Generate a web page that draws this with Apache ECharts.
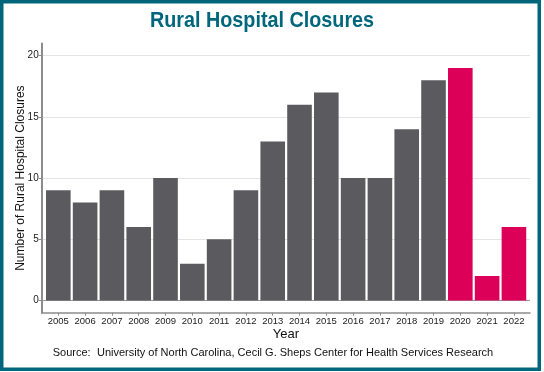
<!DOCTYPE html>
<html>
<head>
<meta charset="utf-8">
<script src="https://cdn.jsdelivr.net/npm/echarts@6/dist/echarts.min.js"></script>
<style>
  html, body { margin: 0; padding: 0; background: #ffffff; }
  #chart { width: 544px; height: 372px; }
</style>
</head>
<body>
<div id="chart"></div>
<script>
// ---- Data ----
const years = [2005, 2006, 2007, 2008, 2009, 2010, 2011, 2012, 2013, 2014, 2015, 2016, 2017, 2018, 2019, 2020, 2021, 2022];
const closures = [9, 8, 9, 6, 10, 3, 5, 9, 13, 16, 17, 10, 10, 14, 18, 19, 2, 6];
const highlightYears = [2020, 2021, 2022];
const yTicks = [0, 5, 10, 15, 20];

const titleText = 'Rural Hospital Closures';
const yAxisTitle = 'Number of Rural Hospital Closures';
const xAxisTitle = 'Year';
const sourceLabel = 'Source:';
const sourceText = 'University of North Carolina, Cecil G. Sheps Center for Health Services Research';

const GRAY = '#5b5b5f';
const PINK = '#dd0058';
const TEAL = '#00667c';

const chart = echarts.init(document.getElementById('chart'), null, { renderer: 'canvas' });

const seriesData = years.map((y, i) => ({
  value: [y, closures[i]],
  itemStyle: { color: highlightYears.includes(y) ? PINK : GRAY }
}));

chart.setOption({
  animation: false,
  backgroundColor: '#ffffff',
  grid: {
    left: 41.7,
    right: 14,
    top: 43.5,
    bottom: 59.3,
    outerBoundsMode: 'none',
    containLabel: false
  },
  xAxis: {
    type: 'value',
    min: 2004.38,
    max: 2022.6,
    name: xAxisTitle,
    nameLocation: 'middle',
    nameGap: 15,
    nameMoveOverlap: false,
    nameTextStyle: { fontFamily: '"Liberation Sans", Arial, sans-serif', fontSize: 13, color: '#111', verticalAlign: 'top' },
    axisLine: { show: true, onZero: false, lineStyle: { color: '#8c8c8c', width: 1.5 } },
    axisTick: { show: true, length: 3, customValues: years, lineStyle: { color: '#8c8c8c' } },
    axisLabel: {
      customValues: years,
      fontFamily: '"Liberation Sans", Arial, sans-serif',
      fontSize: 9.5,
      color: '#222',
      margin: 4,
      formatter: v => String(v)
    },
    splitLine: { show: false }
  },
  yAxis: {
    type: 'value',
    min: -1,
    max: 21,
    name: yAxisTitle,
    nameLocation: 'middle',
    nameGap: 15,
    nameRotate: 90,
    nameMoveOverlap: false,
    nameTextStyle: { fontFamily: '"Liberation Sans", Arial, sans-serif', fontSize: 12, color: '#111' },
    axisLine: { show: true, onZero: false, lineStyle: { color: '#8c8c8c', width: 2 } },
    axisTick: { show: true, length: 3, customValues: yTicks, lineStyle: { color: '#8c8c8c' } },
    axisLabel: {
      customValues: yTicks,
      fontFamily: '"Liberation Sans", Arial, sans-serif',
      fontSize: 10,
      color: '#222',
      margin: 3
    },
    splitLine: { show: true, lineStyle: { color: ['#9a9a9a', '#e4e4e4', '#e4e4e4', '#e4e4e4', '#e4e4e4'], width: 1 } }
  },
  series: [{
    type: 'bar',
    data: seriesData,
    barWidth: 24.6,
    itemStyle: { borderWidth: 0 }
  }],
  graphic: [
    {
      type: 'rect',
      shape: { x: 1.75, y: 1.75, width: 537.5, height: 367.5 },
      style: { fill: null, stroke: TEAL, lineWidth: 3.5 },
      silent: true
    },
    {
      type: 'text',
      x: 262,
      y: 21.5,
      scaleX: 0.92,
      style: {
        text: titleText,
        font: 'bold 21.5px "Liberation Sans", Arial, sans-serif',
        fill: TEAL,
        align: 'center',
        verticalAlign: 'middle'
      }
    },
    {
      type: 'text',
      left: 52.7,
      top: 347,
      style: { text: sourceLabel, font: '11px "Liberation Sans", Arial, sans-serif', fill: '#111' }
    },
    {
      type: 'text',
      left: 97,
      top: 347,
      style: { text: sourceText, font: '11px "Liberation Sans", Arial, sans-serif', fill: '#111' }
    }
  ]
});
</script>
</body>
</html>
